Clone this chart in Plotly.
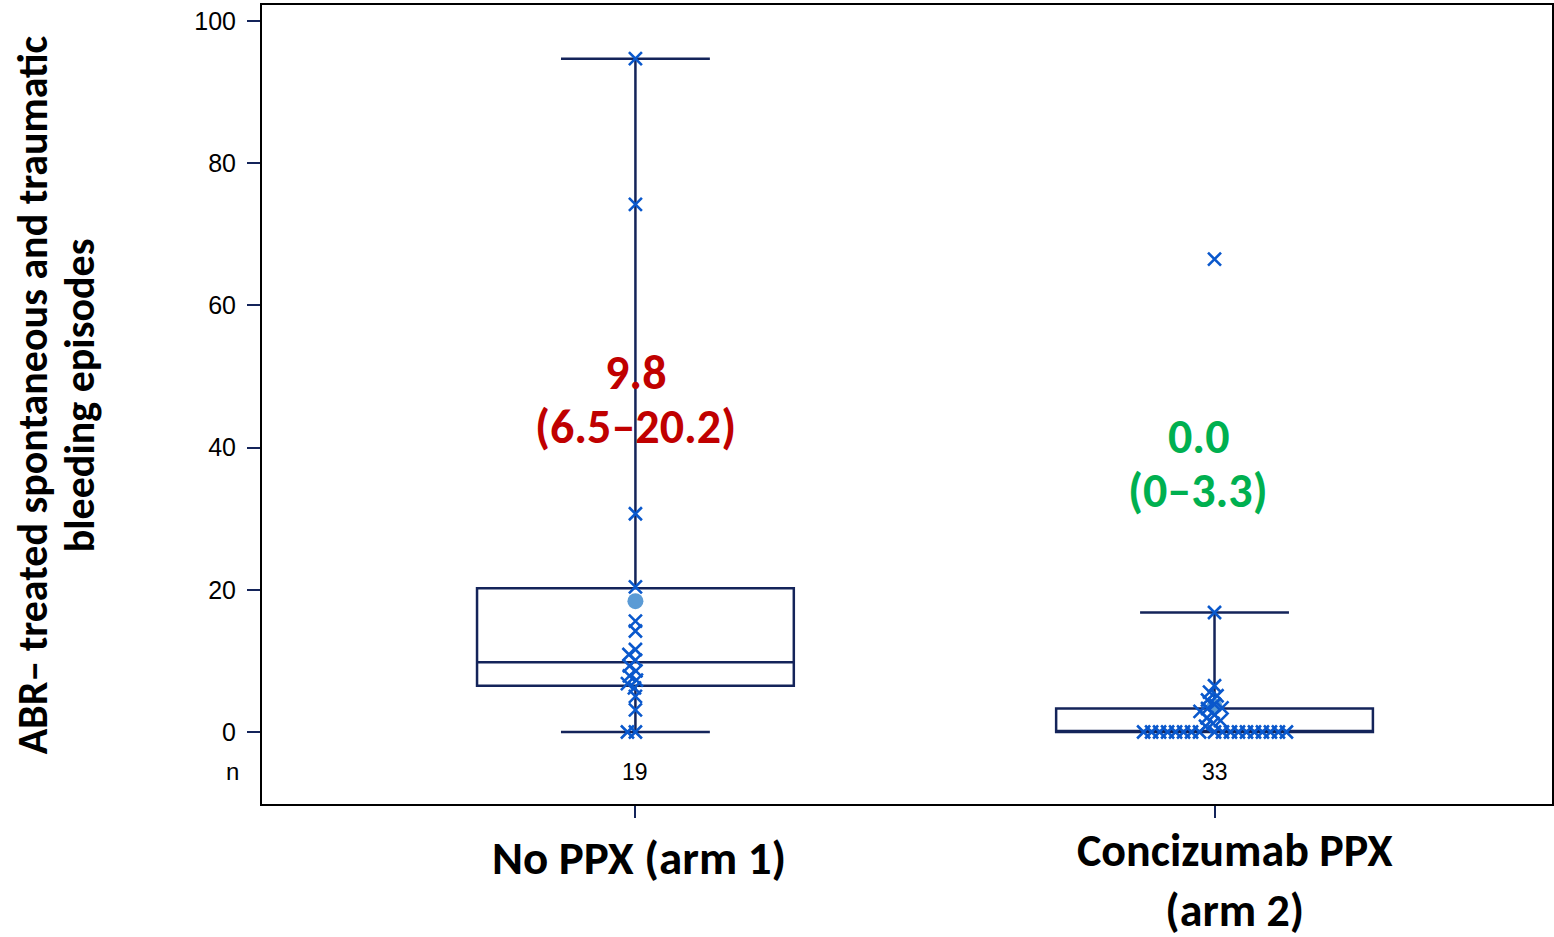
import math
import plotly.graph_objects as go

# ---------------- data ----------------
groups = ["No PPX (arm 1)", "Concizumab PPX<br>(arm 2)"]
n_labels = ["19", "33"]

arm1_values = [94.7, 74.2, 30.7, 20.4, 15.6, 14.2, 11.6, 10.9, 10.1, 9.3, 8.6,
               7.9, 7.3, 6.8, 6.2, 5.0, 3.1, 0.0, 0.0]
arm2_values = [66.5, 16.8, 6.5, 5.6, 5.1, 4.5, 3.9, 3.4, 3.3, 2.9, 2.4, 2.0,
               1.6, 1.2, 0.8, 0.0, 0.0, 0.0, 0.0, 0.0, 0.0, 0.0, 0.0, 0.0,
               0.0, 0.0, 0.0, 0.0, 0.0, 0.0, 0.0, 0.0, 0.0]

q1 = [6.5, 0.0]
median = [9.8, 0.0]
q3 = [20.2, 3.3]
lower_fence = [0.0, 0.0]
upper_fence = [94.7, 16.8]
means = [18.4, 3.6]

median_text = ["9.8", "0.0"]
iqr_text = ["(6.5\u201320.2)", "(0\u20133.3)"]
stat_colors = ["#C00000", "#00B050"]
median_text_y = [50.6, 41.6]
iqr_text_y = [42.9, 34.0]
y_ticks = [0, 20, 40, 60, 80, 100]
y_title_lines = ["ABR\u2013 treated spontaneous and traumatic", "bleeding episodes"]

# ---------------- layout constants ----------------
W, H = 1554, 937
ML, MR, MT, MB = 262, 0, 5, 133
CAT_PX = [636, 1216]
PX_PER_CAT = CAT_PX[1] - CAT_PX[0]
X_RANGE = [(ML - CAT_PX[0]) / PX_PER_CAT, (W - MR - CAT_PX[0]) / PX_PER_CAT]
Y_RANGE = [-10.13, 102.25]
NAVY = "#14245A"
BLUE = "#0A58CC"
MEAN_COL = "#5B9BD5"
BOLD_FONT = "Carlito, Lato, sans-serif"
PLAIN_FONT = "Liberation Sans, Arial, sans-serif"

px_per_x = (W - ML - MR) / (X_RANGE[1] - X_RANGE[0])
px_per_y = (H - MT - MB) / (Y_RANGE[1] - Y_RANGE[0])


def swarm_offsets(vals, dist_px=8.0):
    """Deterministic beeswarm: place points (highest first) at the
    smallest horizontal offset that keeps them dist_px apart."""
    placed = []
    offs = [0.0] * len(vals)
    order = sorted(range(len(vals)), key=lambda i: -vals[i])
    for i in order:
        ypix = vals[i] * px_per_y
        best = None
        for step in range(0, 400):
            for sgn in ([1] if step == 0 else [-1, 1]):
                dx = sgn * step * 0.5
                ok = all(math.hypot(dx - px, ypix - py) >= dist_px for px, py in placed)
                if ok:
                    best = dx
                    break
            if best is not None:
                break
        placed.append((best, ypix))
        offs[i] = best / px_per_x
    return offs


fig = go.Figure()

# boxes
for gi in range(2):
    fig.add_trace(go.Box(
        x=[gi], q1=[q1[gi]], median=[median[gi]], q3=[q3[gi]],
        lowerfence=[lower_fence[gi]], upperfence=[upper_fence[gi]],
        width=0.547, whiskerwidth=0.47, boxpoints=False,
        fillcolor="rgba(255,255,255,0)",
        line=dict(color=NAVY, width=2.5), showlegend=False, hoverinfo="skip"))

# mean markers
fig.add_trace(go.Scatter(
    x=[0, 1], y=means, mode="markers",
    marker=dict(symbol="circle", size=16, color=MEAN_COL),
    showlegend=False, hoverinfo="skip"))

# individual points
for gi, vals in enumerate([arm1_values, arm2_values]):
    offs = swarm_offsets(vals)
    fig.add_trace(go.Scatter(
        x=[gi + o for o in offs], y=vals, mode="markers",
        marker=dict(symbol="x-thin", size=13,
                    line=dict(color=BLUE, width=2.6), color=BLUE),
        showlegend=False, hoverinfo="skip"))

annotations = []
# median (IQR) labels
stat_dx = [0.0, -0.028]
for gi in range(2):
    for txt, yy in ((median_text[gi], median_text_y[gi]), (iqr_text[gi], iqr_text_y[gi])):
        annotations.append(dict(
            x=gi + stat_dx[gi], y=yy, xref="x", yref="y",
            text="<b>" + txt + "</b>", showarrow=False,
            font=dict(family=BOLD_FONT, size=48, color=stat_colors[gi])))
# n row
annotations.append(dict(
    x=(224 - ML) / (W - ML - MR), y=-5.6, xref="paper", yref="y", text="n",
    showarrow=False, font=dict(family=PLAIN_FONT, size=24, color="#000")))
for gi in range(2):
    annotations.append(dict(
        x=gi, y=-5.6, xref="x", yref="y", text=n_labels[gi], showarrow=False,
        font=dict(family=PLAIN_FONT, size=23, color="#000")))
# category labels
label_dx = [0.007, 0.036]
label_mid_px = [858, 880]
label_size = [47, 46]
for gi in range(2):
    annotations.append(dict(
        x=gi + label_dx[gi], y=(H - MB - label_mid_px[gi]) / (H - MT - MB),
        xref="x", yref="paper", yanchor="middle",
        text="<b>" + groups[gi] + "</b>", showarrow=False,
        font=dict(family=BOLD_FONT, size=label_size[gi], color="#000")))
# y-axis title (two lines)
for txt, xpix in zip(y_title_lines, [32, 79]):
    annotations.append(dict(
        x=(xpix - ML) / (W - ML - MR), y=(H - MB - 395) / (H - MT - MB),
        xref="paper", yref="paper", xanchor="center", yanchor="middle",
        text="<b>" + txt + "</b>", textangle=-90, showarrow=False,
        font=dict(family=BOLD_FONT, size=42, color="#000")))

fig.update_layout(
    width=W, height=H,
    margin=dict(l=ML, r=MR, t=MT, b=MB),
    plot_bgcolor="white", paper_bgcolor="white",
    annotations=annotations,
    xaxis=dict(range=X_RANGE, tickvals=[0, 1], ticktext=["", ""],
               showticklabels=False, ticks="outside", ticklen=12,
               tickwidth=2, tickcolor=NAVY, showgrid=False, zeroline=False,
               showline=True, linecolor="#000", linewidth=2, mirror=True),
    yaxis=dict(range=Y_RANGE, tickvals=y_ticks, ticks="outside", ticklen=13,
               tickwidth=2, tickcolor=NAVY, showgrid=False, zeroline=False,
               showline=True, linecolor="#000", linewidth=2, mirror=True,
               ticklabelstandoff=6,
               tickfont=dict(family=PLAIN_FONT, size=25, color="#000")),
)

fig.write_html("out.html", config={"displayModeBar": False},
               post_script="document.body.style.margin='0';")
